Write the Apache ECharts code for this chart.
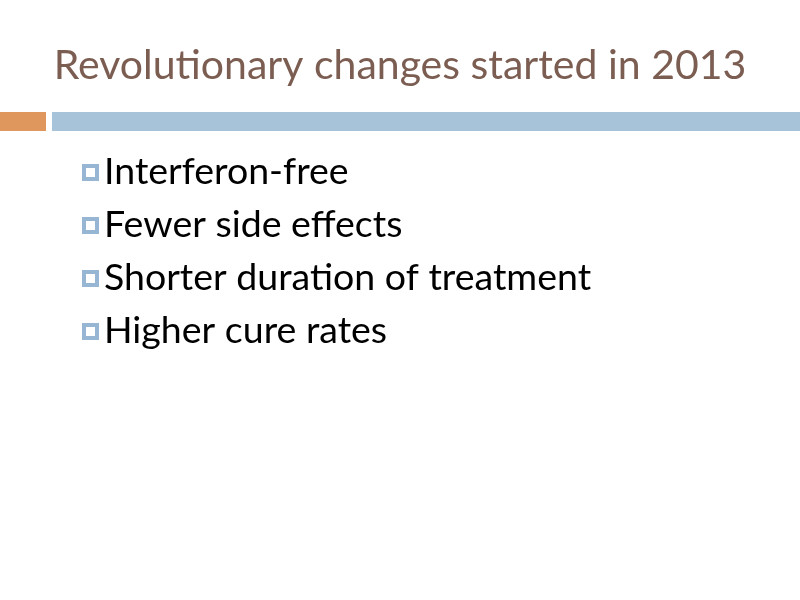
<!DOCTYPE html>
<html><head><meta charset="utf-8">
<script src="https://cdn.jsdelivr.net/npm/echarts@6/dist/echarts.min.js"></script>
<style>html,body{margin:0;padding:0;background:#fff}#c{width:800px;height:600px}</style>
</head><body><div id="c"></div>
<script>
const titleText = "Revolutionary changes started in 2013";
const bulletItems = ["Interferon-free", "Fewer side effects", "Shorter duration of treatment", "Higher cure rates"];

const chart = echarts.init(document.getElementById('c'));
const graphic = [
  {type:'text', left:'center', top:45, style:{text:titleText, font:'41px Lato', fill:'#7b5d52'}},
  {type:'rect', shape:{x:0,y:112,width:46,height:19}, style:{fill:'#e0975d'}},
  {type:'rect', shape:{x:52,y:112,width:748,height:19}, style:{fill:'#a7c3da'}}
];
bulletItems.forEach((t,i)=>{
  const cy = 172 + i*53;
  graphic.push({type:'rect', shape:{x:82,y:cy-8,width:17,height:17}, style:{fill:'#96b6d4'}});
  graphic.push({type:'rect', shape:{x:86,y:cy-4,width:9,height:9}, style:{fill:'#fff'}});
  graphic.push({type:'text', x:104, y:cy, style:{text:t, font:'37.5px Lato', fill:'#000', textVerticalAlign:'middle'}});
});
chart.setOption({graphic});
</script></body></html>
